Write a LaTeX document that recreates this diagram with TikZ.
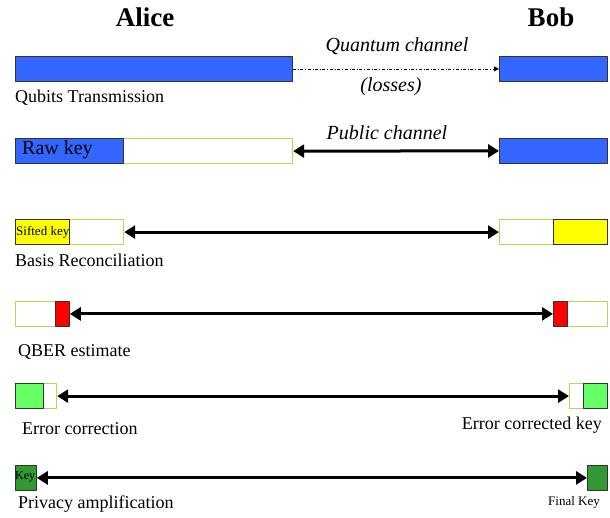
\documentclass[tikz,border=0pt]{standalone}
\usepackage{fontspec}
\setmainfont{Liberation Serif}
\usetikzlibrary{arrows.meta}
\definecolor{qblue}{HTML}{3366FF}
\definecolor{qyellow}{HTML}{FFFF00}
\definecolor{qred}{HTML}{FF0000}
\definecolor{qlgreen}{HTML}{66FF66}
\definecolor{qdgreen}{HTML}{339933}
\definecolor{qrim}{HTML}{B5D65A}
\begin{document}
\begin{tikzpicture}[x=1pt,y=-1pt,line join=round,
    seg/.style={draw=black!80,line width=0.8pt,minimum height=25pt,inner sep=0pt,anchor=north west},
    blank/.style={seg,draw=qrim,line width=1.2pt,fill=white},
    link/.style={line width=3pt,{Triangle[length=11pt,width=13pt]}-{Triangle[length=11pt,width=13pt]}},
    lab/.style={font=\fontsize{18}{20}\selectfont,inner sep=0pt},
    chan/.style={lab,font=\fontsize{20}{22}\selectfont\itshape},
    tiny/.style={font=\fontsize{13}{14}\selectfont,inner sep=0pt}]
	\useasboundingbox (0,0) rectangle (610,517);
	\node[font=\fontsize{27}{30}\selectfont\bfseries] (alice) at (145,17) {Alice};
	\node[font=\fontsize{27}{30}\selectfont\bfseries] (bob) at (551,17) {Bob};
	% qubits
	\node[seg,fill=qblue,minimum width=277pt] (a1) at (15,56) {};
	\node[seg,fill=qblue,minimum width=108pt] (b1) at (499,56) {};
	\draw[dash dot,line width=0.6pt,-{Triangle[length=5pt,width=5pt]}] (a1.east) -- (b1.west);
	\node[chan] (quantum) at (397,46) {Quantum channel};
	\node[chan] (losses) at (391,87) {(losses)};
	\node[lab,anchor=west] (qubits) at (15,98) {Qubits Transmission};
	% raw key
	\node[blank,minimum width=277pt] (a2) at (15,138) {};
	\node[seg,fill=qblue,minimum width=108pt] (a2k) at (15,138) {};
	\node[lab,font=\fontsize{20}{22}\selectfont,anchor=west] (raw) at (22,150) {Raw key};
	\node[seg,fill=qblue,minimum width=108pt] (b2) at (499,138) {};
	\draw[link] (a2.east) -- (b2.west);
	\node[chan] (public) at (387,133) {Public channel};
	% sifting
	\node[blank,minimum width=108pt] (a3) at (15,219) {};
	\node[seg,fill=qyellow,minimum width=54pt] (a3k) at (15,219) {};
	\node[tiny,anchor=west] (sifted) at (16,232) {Sifted key};
	\node[blank,minimum width=108pt] (b3) at (499,219) {};
	\node[seg,fill=qyellow,minimum width=54pt] (b3k) at (553,219) {};
	\draw[link] (a3.east) -- (b3.west);
	\node[lab,anchor=west] (basis) at (15,260) {Basis Reconciliation};
	% qber
	\node[blank,minimum width=54pt] (a4) at (15,301) {};
	\node[seg,fill=qred,minimum width=14pt] (a4k) at (55,301) {};
	\node[blank,minimum width=54pt] (b4) at (553,301) {};
	\node[seg,fill=qred,minimum width=14pt] (b4k) at (553,301) {};
	\draw[link] (a4k.east) -- (b4k.west);
	\node[lab,anchor=west] (qber) at (18,352) {QBER estimate};
	% error correction
	\node[blank,minimum width=41pt] (a5) at (15,383) {};
	\node[seg,fill=qlgreen,minimum width=28pt] (a5k) at (15,383) {};
	\node[blank,minimum width=38pt] (b5) at (569,383) {};
	\node[seg,fill=qlgreen,minimum width=24pt] (b5k) at (583,383) {};
	\draw[link] (a5.east) -- (b5.west);
	\node[lab,anchor=west] (corr) at (22,429) {Error correction};
	\node[lab,anchor=east] (corrkey) at (602,425) {Error corrected key};
	% privacy amplification
	\node[seg,fill=qdgreen,minimum width=21pt] (a6) at (15,465) {};
	\node[tiny,font=\fontsize{12}{13}\selectfont,anchor=west] (key) at (15,477) {Key};
	\node[seg,fill=qdgreen,minimum width=20pt] (b6) at (587,465) {};
	\draw[link] (a6.east) -- (b6.west);
	\node[lab,anchor=west] (privacy) at (18,504) {Privacy amplification};
	\node[tiny,anchor=east] (final) at (600,502) {Final Key};
\end{tikzpicture}
\end{document}
